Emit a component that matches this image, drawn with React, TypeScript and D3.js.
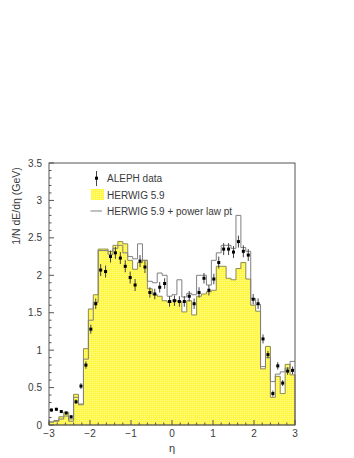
import React, { useEffect, useRef } from "react";
import * as d3 from "d3";

// bins of 0.12 in eta, from -3 to 3
const ETA_MIN = -3;
const ETA_MAX = 3;
const N_BINS = 50;

// ALEPH data points (bin centres) and their errors
const alephData = [
  0.2, 0.21, 0.18, 0.16, 0.11, 0.31, 0.52, 0.8, 1.28, 1.62,
  2.07, 2.05, 2.25, 2.3, 2.23, 2.12, 1.97, 1.87, 2.19, 2.11,
  1.77, 1.75, 1.84, 1.89, 1.65, 1.66, 1.65, 1.65, 1.72, 1.62,
  1.77, 1.96, 1.8, 1.95, 2.17, 2.35, 2.35, 2.31, 2.45, 2.32,
  2.27, 1.68, 1.62, 1.15, 0.94, 0.42, 0.79, 0.56, 0.72, 0.73,
];
const alephErr = [
  0.02, 0.02, 0.02, 0.02, 0.02, 0.03, 0.04, 0.05, 0.06, 0.07,
  0.08, 0.08, 0.08, 0.08, 0.08, 0.08, 0.08, 0.08, 0.08, 0.08,
  0.07, 0.07, 0.07, 0.07, 0.07, 0.07, 0.07, 0.07, 0.07, 0.07,
  0.07, 0.07, 0.07, 0.07, 0.08, 0.08, 0.08, 0.08, 0.08, 0.08,
  0.08, 0.07, 0.07, 0.06, 0.05, 0.04, 0.05, 0.04, 0.05, 0.05,
];
// HERWIG 5.9 (yellow)
const herwig = [
  0.04, 0.06, 0.11, 0.17, 0.08, 0.41, 0.28, 1.02, 1.55, 1.74,
  2.35, 2.35, 2.32, 2.4, 2.45, 2.42, 2.2, 2.08, 2.17, 2.2,
  1.82, 1.74, 1.72, 1.66, 1.64, 1.67, 1.65, 1.51, 1.66, 1.47,
  1.72, 1.75, 1.78, 1.8, 2.12, 2.12, 1.96, 1.94, 2.09, 2.17,
  1.95, 1.6, 1.52, 0.75, 1.05, 0.37, 0.65, 0.42, 0.81, 0.67,
];
// HERWIG 5.9 + power law pt (outline)
const herwigPt = [
  0.04, 0.05, 0.08, 0.12, 0.05, 0.37, 0.27, 0.88, 1.4, 1.64,
  2.33, 2.33, 2.28, 2.36, 2.4, 2.3, 2.25, 2.22, 2.42, 2.2,
  1.92, 1.9, 2.03, 2.0, 1.72, 1.74, 1.94, 1.71, 1.76, 1.74,
  2.0, 2.0, 1.87, 2.2, 2.3, 2.4, 2.4, 2.36, 2.8, 2.37,
  2.32, 1.69, 1.61, 0.78, 0.9, 0.58, 0.68, 0.71, 0.76, 0.85,
];

const yTicks = [0, 0.5, 1, 1.5, 2, 2.5, 3, 3.5];
const xTicks = [-3, -2, -1, 0, 1, 2, 3];

const legendLabels = ["ALEPH data", "HERWIG 5.9", "HERWIG 5.9 + power law pt"];

const W = 354;
const H = 458;
const FONT = "'Liberation Sans', Arial, Helvetica, sans-serif";
const TXT = "#3a3a3a";

const App = () => {
  const svgRef = useRef<SVGSVGElement | null>(null);

  useEffect(() => {
    const svg = d3.select(svgRef.current);
    svg.selectAll("*").remove();

    const left = 49, right = 295, top = 163, bottom = 425;
    const x = d3.scaleLinear().domain([ETA_MIN, ETA_MAX]).range([left, right]);
    const y = d3.scaleLinear().domain([0, 3.5]).range([bottom, top]);

    const binW = (ETA_MAX - ETA_MIN) / N_BINS;
    const edges = d3.range(N_BINS + 1).map((i) => ETA_MIN + i * binW);
    const centres = d3.range(N_BINS).map((i) => ETA_MIN + (i + 0.5) * binW);

    // yellow dither pattern
    const defs = svg.append("defs");
    const pat = defs
      .append("pattern")
      .attr("id", "yel")
      .attr("width", 2)
      .attr("height", 2)
      .attr("patternUnits", "userSpaceOnUse");
    pat.append("rect").attr("width", 2).attr("height", 2).attr("fill", "#fff645");
    pat.append("rect").attr("width", 1).attr("height", 1).attr("fill", "#fffd8c");

    const stepPts = (vals: number[]) =>
      [...vals.map((v, i) => [edges[i], v]), [edges[N_BINS], vals[N_BINS - 1]]] as [number, number][];

    // HERWIG 5.9 filled histogram
    const area = d3
      .area<[number, number]>()
      .x((d) => x(d[0]))
      .y0(y(0))
      .y1((d) => y(d[1]))
      .curve(d3.curveStepAfter);
    svg
      .append("path")
      .attr("d", area(stepPts(herwig)))
      .attr("fill", "url(#yel)")
      .attr("stroke", "#8d8a55")
      .attr("stroke-width", 1);

    const line = d3
      .line<[number, number]>()
      .x((d) => x(d[0]))
      .y((d) => y(d[1]))
      .curve(d3.curveStepAfter);

    // HERWIG + power law pt outline
    svg
      .append("path")
      .attr("d", line(stepPts(herwigPt)))
      .attr("fill", "none")
      .attr("stroke", "#808080")
      .attr("stroke-width", 1);

    // frame
    svg
      .append("rect")
      .attr("x", left)
      .attr("y", top)
      .attr("width", right - left)
      .attr("height", bottom - top)
      .attr("fill", "none")
      .attr("stroke", "#555")
      .attr("stroke-width", 1);

    // y ticks
    const yMinor = d3.range(0, 3.51, 0.1);
    svg
      .append("g")
      .selectAll("line")
      .data(yMinor)
      .join("line")
      .attr("x1", left)
      .attr("x2", (d) => (Math.abs(d * 2 - Math.round(d * 2)) < 1e-6 ? left + 5 : left + 2.5))
      .attr("y1", (d) => y(d))
      .attr("y2", (d) => y(d))
      .attr("stroke", "#555");
    svg
      .append("g")
      .selectAll("text")
      .data(yTicks)
      .join("text")
      .attr("x", 42)
      .attr("y", (d) => y(d) + 3.5)
      .attr("text-anchor", "end")
      .attr("font-size", 10)
      .attr("font-family", FONT)
      .attr("fill", TXT)
      .text((d) => String(d));

    // x ticks
    const xMinor = d3.range(-3, 3.01, 0.2);
    svg
      .append("g")
      .selectAll("line")
      .data(xMinor)
      .join("line")
      .attr("x1", (d) => x(d))
      .attr("x2", (d) => x(d))
      .attr("y1", bottom)
      .attr("y2", (d) => (Math.abs(d - Math.round(d)) < 1e-6 ? bottom - 5 : bottom - 2.5))
      .attr("stroke", "#555");
    svg
      .append("g")
      .selectAll("text")
      .data(xTicks)
      .join("text")
      .attr("x", (d) => x(d))
      .attr("y", 437)
      .attr("text-anchor", "middle")
      .attr("font-size", 10)
      .attr("font-family", FONT)
      .attr("fill", TXT)
      .text((d) => (d < 0 ? "\u2212" + Math.abs(d) : String(d)));

    // axis titles
    svg
      .append("text")
      .attr("x", x(0))
      .attr("y", 452)
      .attr("text-anchor", "middle")
      .attr("font-size", 11)
      .attr("font-family", FONT)
      .attr("fill", TXT)
      .text("\u03b7");
    svg
      .append("text")
      .attr("transform", "translate(20,206) rotate(-90)")
      .attr("text-anchor", "middle")
      .attr("font-size", 10.5)
      .attr("font-family", FONT)
      .attr("fill", TXT)
      .text("1/N dE/d\u03b7 (GeV)");

    // data points
    const pts = svg.append("g");
    pts
      .selectAll("line")
      .data(alephData)
      .join("line")
      .attr("x1", (_, i) => x(centres[i]))
      .attr("x2", (_, i) => x(centres[i]))
      .attr("y1", (d, i) => y(d + alephErr[i]))
      .attr("y2", (d, i) => y(d - alephErr[i]))
      .attr("stroke", "#444")
      .attr("stroke-width", 1);
    pts
      .selectAll("rect")
      .data(alephData)
      .join("rect")
      .attr("x", (_, i) => x(centres[i]) - 1.5)
      .attr("y", (d) => y(d) - 1.5)
      .attr("width", 3)
      .attr("height", 3)
      .attr("fill", "#000");

    // legend
    const lg = svg.append("g").attr("font-family", FONT).attr("font-size", 10).attr("fill", TXT);
    lg.append("line").attr("x1", 96.5).attr("x2", 96.5).attr("y1", 171).attr("y2", 186).attr("stroke", "#444");
    lg.append("rect").attr("x", 95).attr("y", 176.7).attr("width", 3).attr("height", 3).attr("fill", "#000");
    lg.append("rect")
      .attr("x", 91)
      .attr("y", 189)
      .attr("width", 13)
      .attr("height", 11)
      .attr("fill", "url(#yel)");
    lg.append("line").attr("x1", 90.5).attr("x2", 102).attr("y1", 211).attr("y2", 211).attr("stroke", "#808080");
    legendLabels.forEach((t, i) => {
      lg.append("text").attr("x", 107).attr("y", 182 + i * 16.5).text(t);
    });
  }, []);

  return (
    <svg
      ref={svgRef}
      width={W}
      height={H}
      style={{ position: "absolute", left: 0, top: 0, background: "#fff" }}
    ></svg>
  );
};

export default App;
